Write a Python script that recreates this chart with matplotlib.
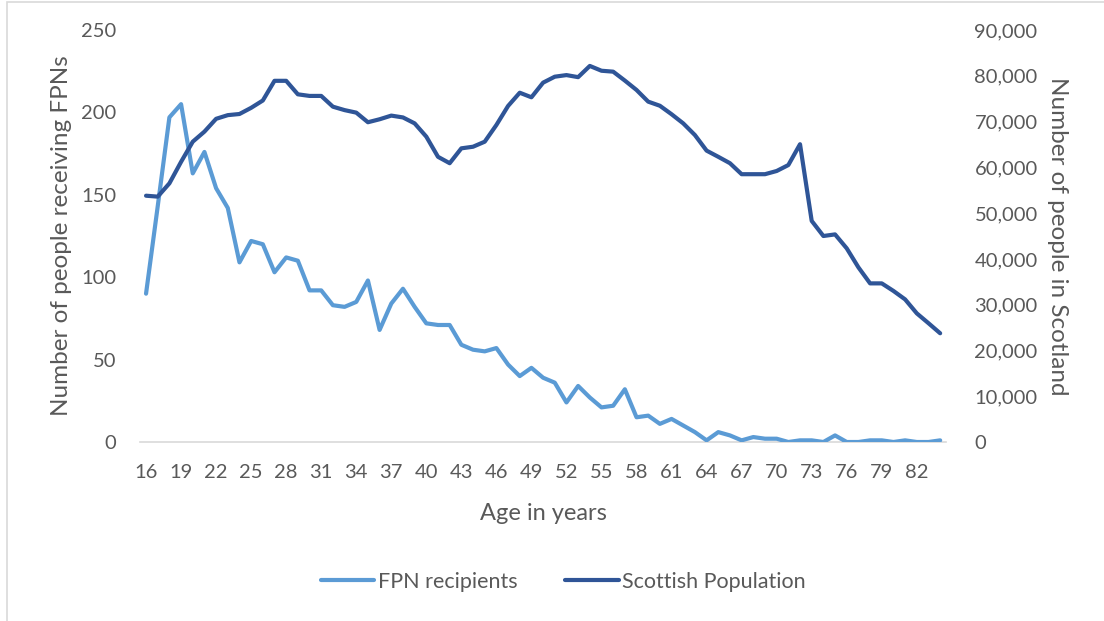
import matplotlib
matplotlib.use("Agg")
import matplotlib.pyplot as plt
from matplotlib.patches import Rectangle

ages = list(range(16, 85))
fpn_recipients = [90, 143, 197, 205, 163, 176, 154, 142, 109, 122, 120, 103, 112, 110,
                  92, 92, 83, 82, 85, 98, 68, 84, 93, 82, 72, 71, 71, 59, 56, 55,
                  57, 47, 40, 45, 39, 36, 24, 34, 27, 21, 22, 32, 15, 16, 11, 14,
                  10, 6, 1, 6, 4, 1, 3, 2, 2, 0, 1, 1, 0, 4, 0, 0, 1, 1, 0, 1, 0, 0, 1]
scottish_population = [53800, 53600, 56500, 61200, 65600, 67800, 70600, 71400, 71650,
                       73000, 74600, 78900, 78900, 75950, 75600, 75600, 73250, 72500,
                       71950, 69850, 70500, 71300, 70900, 69600, 66700, 62300, 60900,
                       64150, 64500, 65600, 69250, 73400, 76300, 75300, 78500, 79800,
                       80150, 79700, 82150, 81100, 80900, 78950, 76900, 74350, 73450,
                       71600, 69600, 67050, 63650, 62300, 60900, 58500, 58500, 58500,
                       59200, 60500, 65050, 48300, 45000, 45350, 42300, 38150, 34650,
                       34650, 33000, 31150, 28100, 25950, 23750]
left_ticks = [0, 50, 100, 150, 200, 250]
right_ticks = [0, 10000, 20000, 30000, 40000, 50000, 60000, 70000, 80000, 90000]

plt.rcParams['font.family'] = ['Lato', 'DejaVu Sans']
grey = '#595959'
light_blue = '#5B9BD5'
dark_blue = '#2F5597'

fig = plt.figure(figsize=(11.04, 6.21), dpi=100)
fig.patches.append(Rectangle((7/1104, -0.1), 1.2, 1 - 2/621 + 0.1, transform=fig.transFigure,
                             fill=False, edgecolor='#D9D9D9', linewidth=1.2))

ax = fig.add_axes([140.2/1104, 1 - 442/621, (946 - 140.2)/1104, (442 - 30)/621])
ax2 = ax.twinx()

x = list(range(len(ages)))
l1, = ax.plot(x, fpn_recipients, color=light_blue, linewidth=3, solid_capstyle='round',
              solid_joinstyle='round', zorder=3)
l2, = ax2.plot(x, scottish_population, color=dark_blue, linewidth=3, solid_capstyle='round',
               solid_joinstyle='round', zorder=3)

ax.set_xlim(-0.5, len(ages) - 0.5)
ax.set_ylim(0, 250)
ax2.set_ylim(0, 90000)
ax.set_yticks(left_ticks)
ax.set_yticklabels([str(v) for v in left_ticks])
ax2.set_yticks(right_ticks)
ax2.set_yticklabels([f"{v:,}" for v in right_ticks])
ax.set_xticks(x[::3])
ax.set_xticklabels([str(a) for a in ages[::3]])

for a in (ax, ax2):
    for s in a.spines.values():
        s.set_visible(False)
    a.tick_params(length=0, labelsize=14.5, labelcolor=grey)
ax.spines['bottom'].set_visible(True)
ax.spines['bottom'].set_color('#D9D9D9')
ax.spines['bottom'].set_linewidth(1.2)
ax.tick_params(axis='y', pad=17)
ax2.tick_params(axis='y', pad=20.5)
ax.tick_params(axis='x', pad=16)

ax.set_ylabel('Number of people receiving FPNs', fontsize=17.5, color=grey, labelpad=7)
ax2.set_ylabel('Number of people in Scotland', fontsize=17.5, color=grey, rotation=270,
               labelpad=22)
ax.set_xlabel('Age in years', fontsize=17, color=grey, labelpad=16)

fig.legend(handles=[l1, l2], labels=['FPN recipients', 'Scottish Population'],
           loc='center', bbox_to_anchor=(563/1104, 1 - 582/621), ncol=2, frameon=False,
           fontsize=15.5, labelcolor=grey, handlelength=2.5, handletextpad=0.15,
           columnspacing=2.2)

fig.savefig('out.png', dpi=100)
